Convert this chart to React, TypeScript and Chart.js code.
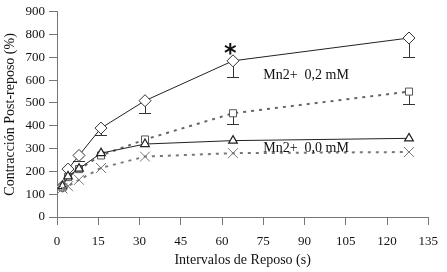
import React, { useEffect, useRef } from "react";
import { Chart, registerables } from "chart.js";

Chart.register(...registerables);

const intervals = [2, 4, 8, 16, 32, 64, 128];
const mn02Diamond = [135, 210, 270, 390, 510, 685, 785];
const mn02DiamondErr = [0, 0, 25, 30, 55, 70, 85];
const mn02Square = [130, 175, 210, 270, 340, 455, 550];
const mn02SquareErr = [0, 0, 0, 0, 0, 45, 55];
const mn00Triangle = [135, 178, 212, 280, 320, 335, 345];
const mn00Cross = [125, 135, 163, 215, 265, 280, 285];

const xTicks = [0, 15, 30, 45, 60, 75, 90, 105, 120, 135];
const yTicks = [0, 100, 200, 300, 400, 500, 600, 700, 800, 900];

const labelTop = { text: "Mn2+  0,2 mM", x: 75, y: 620 };
const labelBottom = { text: "Mn2+  0,0 mM", x: 75, y: 303 };
const star = { text: "*", x: 63, y: 728 };

const FONT = "'Liberation Serif', 'Times New Roman', serif";

const errorBarPlugin = {
  id: "errorBars",
  beforeDatasetsDraw(chart: any) {
    const { ctx, scales } = chart;
    chart.data.datasets.forEach((ds: any, i: number) => {
      if (!ds.errLow) return;
      const meta = chart.getDatasetMeta(i);
      if (meta.hidden) return;
      ctx.save();
      ctx.strokeStyle = "#333";
      ctx.lineWidth = 1;
      ds.data.forEach((p: any, j: number) => {
        const e = ds.errLow[j];
        if (!e) return;
        const px = scales.x.getPixelForValue(p.x);
        const py = scales.y.getPixelForValue(p.y);
        const pe = scales.y.getPixelForValue(p.y - e);
        ctx.beginPath();
        ctx.moveTo(Math.round(px) + 0.5, py);
        ctx.lineTo(Math.round(px) + 0.5, Math.round(pe) + 0.5);
        ctx.moveTo(px - 6, Math.round(pe) + 0.5);
        ctx.lineTo(px + 6, Math.round(pe) + 0.5);
        ctx.stroke();
      });
      ctx.restore();
    });
  },
  afterDraw(chart: any) {
    const { ctx, scales } = chart;
    ctx.save();
    ctx.fillStyle = "#111";
    ctx.font = `14px ${FONT}`;
    ctx.textBaseline = "middle";
    ctx.textAlign = "left";
    [labelTop, labelBottom].forEach((l) => {
      ctx.fillText(l.text, scales.x.getPixelForValue(l.x), scales.y.getPixelForValue(l.y));
    });
    ctx.font = `bold 24px 'DejaVu Sans', sans-serif`;
    ctx.textAlign = "center";
    ctx.fillText(star.text, scales.x.getPixelForValue(star.x), scales.y.getPixelForValue(star.y) + 4);
    ctx.restore();
  },
};

function pts(ys: number[]) {
  return intervals.map((x, i) => ({ x, y: ys[i] }));
}

export default function App() {
  const ref = useRef<HTMLCanvasElement>(null);
  useEffect(() => {
    if (!ref.current) return;
    const chart = new Chart(ref.current, {
      type: "line",
      data: {
        datasets: [
          {
            label: "cross",
            data: pts(mn00Cross),
            borderColor: "#777",
            borderWidth: 2,
            borderDash: [3, 5],
            pointStyle: "crossRot",
            pointRadius: 7,
            pointBorderColor: "#777",
            pointBorderWidth: 1,
            backgroundColor: "#777",
          },
          {
            label: "triangle",
            data: pts(mn00Triangle),
            borderColor: "#222",
            borderWidth: 1,
            pointStyle: "triangle",
            pointRadius: 5,
            pointBorderColor: "#222",
            pointBorderWidth: 1.2,
            pointBackgroundColor: "#fff",
          },
          {
            label: "square",
            data: pts(mn02Square),
            errLow: mn02SquareErr,
            borderColor: "#666",
            borderWidth: 2,
            borderDash: [3, 5],
            pointStyle: "rect",
            pointRadius: 5,
            pointBorderColor: "#555",
            pointBorderWidth: 1,
            pointBackgroundColor: "#fff",
          } as any,
          {
            label: "diamond",
            data: pts(mn02Diamond),
            errLow: mn02DiamondErr,
            borderColor: "#222",
            borderWidth: 1,
            pointStyle: "rectRot",
            pointRadius: 6,
            pointBorderColor: "#333",
            pointBorderWidth: 1,
            pointBackgroundColor: "#fff",
          } as any,
        ],
      },
      options: {
        animation: false,
        responsive: false,
        layout: { padding: { top: 8, right: 11, left: 0, bottom: 0 } },
        plugins: { legend: { display: false }, tooltip: { enabled: false } },
        scales: {
          x: {
            type: "linear",
            min: 0,
            max: 135,
            afterFit: (s: any) => {
              s.height = 55;
            },
            afterBuildTicks: (s: any) => {
              s.ticks = xTicks.map((v) => ({ value: v }));
            },
            grid: { drawOnChartArea: false, tickLength: 8, color: "#777" },
            border: { color: "#777", width: 1 },
            ticks: { color: "#111", font: { family: FONT, size: 13 }, padding: 9, maxRotation: 0 },
            title: {
              display: true,
              text: "Intervalos de Reposo (s)",
              color: "#111",
              font: { family: FONT, size: 14 },
              padding: { top: 0, bottom: 3 },
            },
          },
          y: {
            type: "linear",
            min: 0,
            max: 900,
            afterFit: (s: any) => {
              s.width = 57;
            },
            afterBuildTicks: (s: any) => {
              s.ticks = yTicks.map((v) => ({ value: v }));
            },
            grid: { drawOnChartArea: false, tickLength: 8, color: "#777" },
            border: { color: "#777", width: 1 },
            ticks: { color: "#111", font: { family: FONT, size: 13 }, padding: 4 },
            title: {
              display: true,
              text: "Contracción Post-reposo (%)",
              color: "#111",
              font: { family: FONT, size: 14 },
              padding: { top: 2, bottom: 0 },
            },
          },
        },
      },
      plugins: [errorBarPlugin],
    });
    return () => chart.destroy();
  }, []);
  return (
    <div style={{ position: "fixed", left: 0, top: 0, width: 447, height: 272, background: "#fff" }}>
      <canvas ref={ref} width={447} height={272} style={{ display: "block" }} />
    </div>
  );
}
